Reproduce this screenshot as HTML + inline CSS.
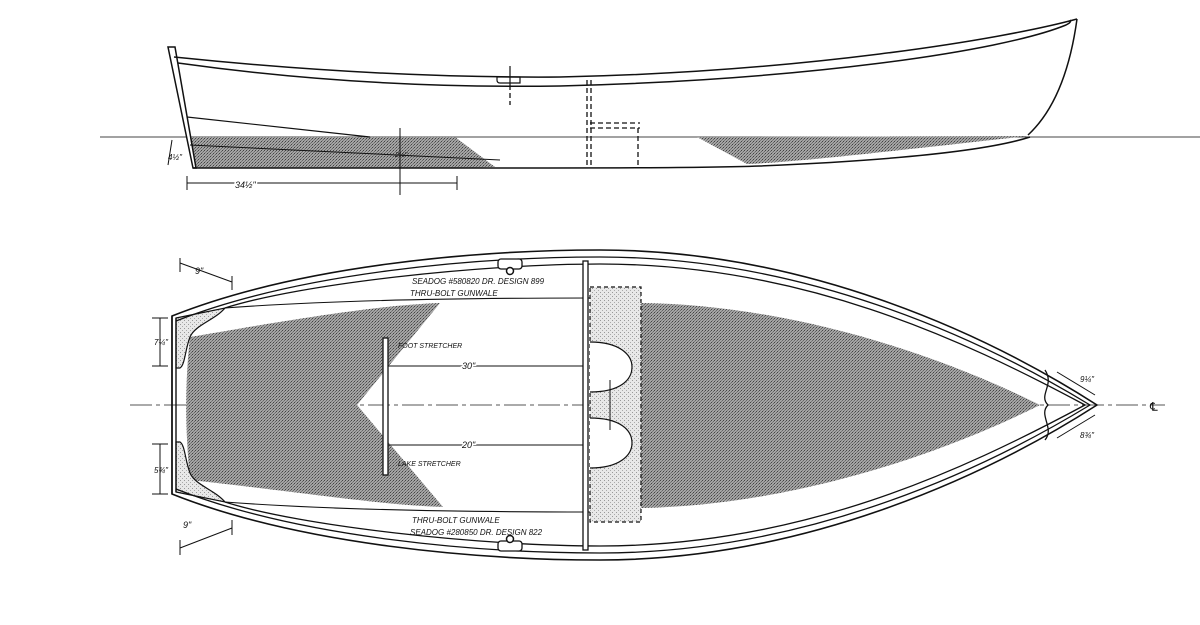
<!DOCTYPE html>
<html><head><meta charset="utf-8"><style>html,body{margin:0;padding:0;background:#fff}svg{display:block}</style></head>
<body>
<svg width="1200" height="625" viewBox="0 0 1200 625" xmlns="http://www.w3.org/2000/svg" font-family="Liberation Sans, sans-serif">
<defs>
<pattern id="st" width="3" height="3" patternUnits="userSpaceOnUse"><rect width="3" height="3" fill="#a4a4a4"/><rect width="1" height="1" fill="#444"/><rect x="2" y="1" width="1" height="1" fill="#666"/><rect x="1" y="2" width="1" height="1" fill="#777"/></pattern>
<pattern id="lt" width="4" height="4" patternUnits="userSpaceOnUse"><rect width="4" height="4" fill="#e8e8e8"/><rect width="1" height="1" fill="#999"/><rect x="2" y="2" width="1" height="1" fill="#aaa"/></pattern>
</defs>
<g fill="none" stroke="#111" stroke-width="1.5">
<!-- PROFILE -->
<line x1="100" y1="137" x2="1200" y2="137" stroke-width="1" stroke="#444"/>
<path d="M190,137 L455,137 L495,167 L455,168 L193,168 Z" fill="url(#st)" stroke="none"/>
<path d="M697,137 L1028,136 C900,150 800,162 747,164 Z" fill="url(#st)" stroke="none"/>
<path d="M168,47 L175,47 L196,168 L193,168 Z" fill="#fff"/>
<path d="M174,57 C300,70 430,78 560,77 C800,72 1000,40 1077,19"/>
<path d="M178,63 C300,80 430,88 560,86 C800,80 1000,52 1066,25 Q1072,22 1070,20"/>
<path d="M1077,19 C1070,70 1055,110 1028,135"/>
<path d="M193,168 L457,168 C600,168 700,168 760,166 C900,160 990,150 1030,137"/>
<path d="M187,117 L370,137" stroke-width="1.2"/>
<path d="M190,145 L500,160" stroke-width="1"/>
<g stroke-dasharray="5,3" stroke-width="1.3">
<path d="M587,80 V168 M591,80 V168 M590,123 H640 M590,128 H640 M638,128 V168"/>
<path d="M510,85 V105"/>
</g>
<path d="M510,66 V85 M497,77 H520 V83 H500 Q497,83 497,80 Z" stroke-width="1.2"/>
<path d="M400,128 V195" stroke-width="1"/>
<path d="M187,183 H457 M187,176 V190 M457,176 V190" stroke-width="1"/>
<path d="M172,140 L168,165" stroke-width="1"/>

<!-- PLAN -->
<line x1="130" y1="405" x2="1165" y2="405" stroke="#555" stroke-width="1" stroke-dasharray="22,4,4,4"/>
<path d="M190,337 C300,318 380,305 440,303 L357,405 L443,507 C380,505 300,492 190,480 C185,430 185,380 190,337 Z" fill="url(#st)" stroke="none"/>
<path d="M641,303 C800,305 950,360 1040,405 C950,450 800,505 641,508 Z" fill="url(#st)" stroke="none"/>
<path d="M590,287 H641 V522 H590 Z" fill="url(#lt)" stroke-dasharray="4,3" stroke-width="1.2"/>
<path d="M176,318 L225,308 C215,320 195,325 190,337 C185,350 185,365 180,368 L176,368 Z" fill="url(#lt)" stroke-width="1.2"/>
<path d="M176,492 L225,502 C215,490 195,485 190,473 C185,460 185,445 180,442 L176,442 Z" fill="url(#lt)" stroke-width="1.2"/>
<path d="M590,342 C620,342 632,355 632,367 C632,380 620,392 590,392" fill="#fff" stroke-width="1.2"/>
<path d="M590,418 C620,418 632,430 632,443 C632,455 620,468 590,468" fill="#fff" stroke-width="1.2"/>
<!-- hull outlines -->
<path d="M172,316 C300,265 480,250 600,250 C800,250 980,330 1097,405 C980,480 800,560 600,560 C480,560 300,545 172,494 Z" stroke-width="1.6"/>
<path d="M176,321 C300,272 480,257 600,257 C800,257 975,335 1090,405 C975,475 800,553 600,553 C480,553 300,538 176,489" stroke-width="1.3"/>
<path d="M225,308 C300,284 480,264 600,264 C800,264 960,338 1085,405 C960,472 800,546 600,546 C480,546 300,526 225,502" stroke-width="1.3"/>
<path d="M225,308 C330,300 480,298 590,298" stroke-width="1.1"/>
<path d="M225,502 C330,510 480,512 590,512" stroke-width="1.1"/>
<path d="M172,316 V494 M176,318 V492" stroke-width="1.4"/>
<path d="M1045,370 C1055,385 1038,395 1048,405 C1038,415 1055,428 1045,440" stroke-width="1.3"/>
<!-- thwart -->
<rect x="583" y="261" width="5" height="289" fill="#fff" stroke-width="1.3"/>
<rect x="383" y="338" width="5" height="137" fill="#fff" stroke-width="1.3"/>
<path d="M388,366 H583 M388,445 H583" stroke-width="1"/>
<path d="M610,380 V430" stroke-width="1"/>
<!-- hardware -->
<rect x="498" y="259" width="24" height="10" rx="3" fill="#fff" stroke-width="1.3"/><circle cx="510" cy="271" r="3.5" fill="#fff"/>
<rect x="498" y="541" width="24" height="10" rx="3" fill="#fff" stroke-width="1.3"/><circle cx="510" cy="539" r="3.5" fill="#fff"/>
<!-- dims -->
<path d="M180,263 L232,282 M180,258 V272 M232,276 V290" stroke-width="1"/>
<path d="M180,548 L232,528 M180,540 V555 M232,520 V535" stroke-width="1"/>
<path d="M160,318 V366 M152,318 H168 M152,366 H168" stroke-width="1"/>
<path d="M160,444 V494 M152,444 H168 M152,494 H168" stroke-width="1"/>
<path d="M1057,372 L1095,395 M1057,438 L1095,415" stroke-width="1"/>
</g>
<g font-size="9" fill="#111" font-style="italic">
<text x="412" y="284" font-size="8">SEADOG #580820  DR. DESIGN 899</text>
<text x="410" y="296" font-size="8">THRU-BOLT GUNWALE</text>
<text x="398" y="348" font-size="7">FOOT STRETCHER</text>
<text x="398" y="466" font-size="7">LAKE STRETCHER</text>
<text x="412" y="523" font-size="8">THRU-BOLT GUNWALE</text>
<text x="410" y="535" font-size="8">SEADOG #280850  DR. DESIGN 822</text>
<text x="462" y="369" fill="#111" stroke="#fff" stroke-width="3" paint-order="stroke">30"</text>
<text x="462" y="448" stroke="#fff" stroke-width="3" paint-order="stroke">20"</text>
<text x="195" y="274">9"</text>
<text x="183" y="528">9"</text>
<text x="154" y="345" font-size="8">7¼"</text>
<text x="154" y="473" font-size="8">5¾"</text>
<text x="1080" y="382" font-size="8">9¼"</text>
<text x="1080" y="438" font-size="8">8¾"</text>
<text x="1150" y="411" font-size="12" font-style="normal">℄</text>
<text x="235" y="188" stroke="#fff" stroke-width="3" paint-order="stroke">34½"</text>
<text x="168" y="160" font-size="8">4½"</text>
<text x="395" y="157" font-size="7">2¼"</text>
</g>
</svg>
</body></html>
